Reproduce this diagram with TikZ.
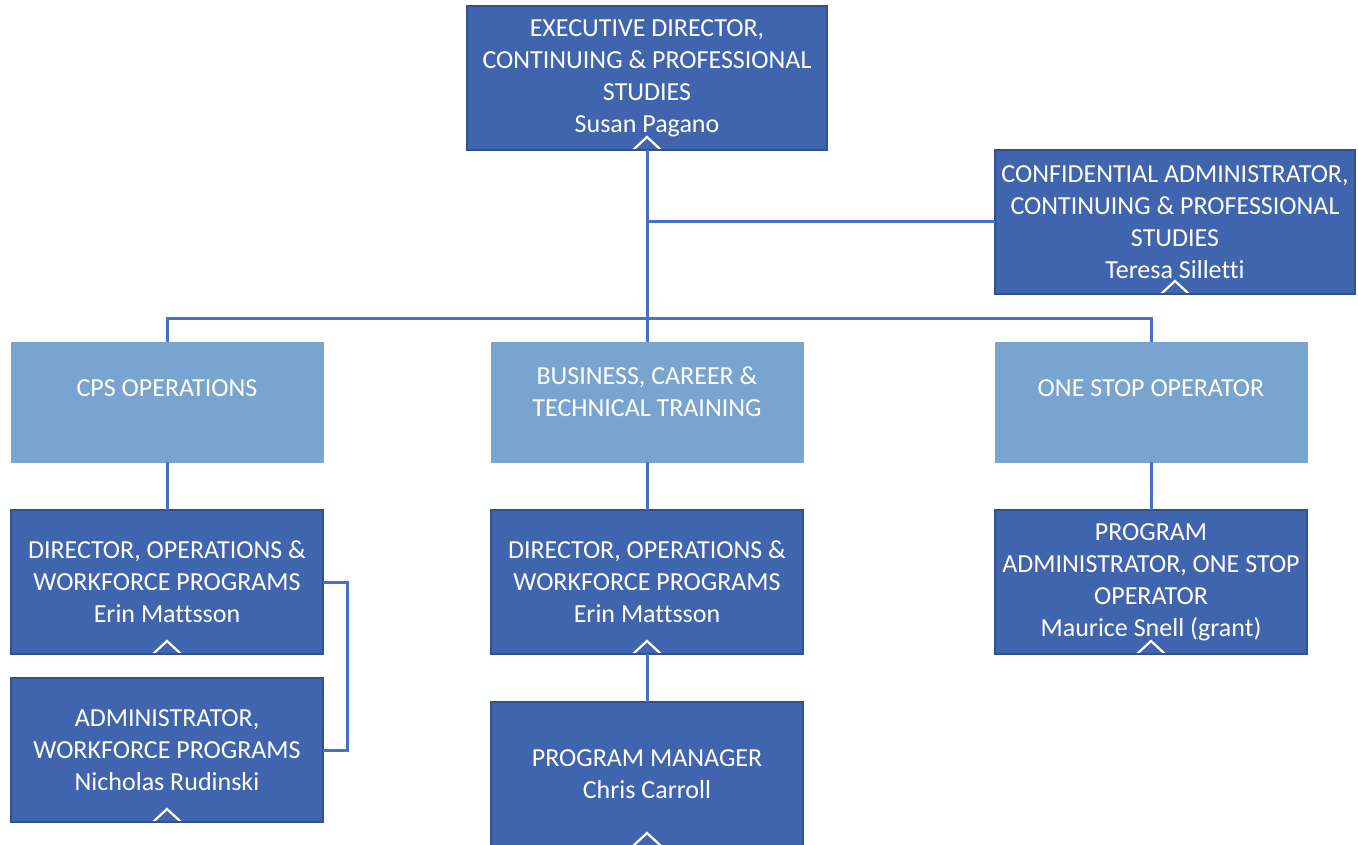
\documentclass[tikz,border=0pt]{standalone}
\usepackage{fontspec}
\setmainfont{Carlito}[Ligatures=NoCommon]
\usetikzlibrary{positioning,calc}

\definecolor{boxblue}{RGB}{64,101,174}
\definecolor{boxedge}{RGB}{47,82,143}
\definecolor{lightblue}{RGB}{122,164,208}
\definecolor{linkblue}{RGB}{68,114,196}

\tikzset{
  box/.style={draw=boxedge, line width=1.5pt, fill=boxblue, text=white,
    minimum width=312pt, minimum height=144pt, inner sep=0pt, outer sep=0pt,
    align=center, font=\fontsize{26}{32}\selectfont,
    path picture={\draw[white, line width=2.2pt]
      ([xshift=-14pt]path picture bounding box.south) -- ++(14pt,13pt) -- ++(14pt,-13pt);}},
  widebox/.style={box, minimum width=360pt},
  lightbox/.style={draw=lightblue, line width=1pt, fill=lightblue,
    minimum width=312pt, minimum height=120pt, inner sep=0pt, outer sep=0pt},
  lighttext/.style={text=white, align=center, inner sep=0pt, font=\fontsize{26}{32}\selectfont},
  link/.style={draw=linkblue, line width=3pt}
}

\begin{document}
\begin{tikzpicture}[x=1pt, y=-1pt]
  \useasboundingbox (0,0) rectangle (1358,845);

  % Top level
  \node[widebox] (exec) at (647,78) {EXECUTIVE DIRECTOR,\\CONTINUING \& PROFESSIONAL\\STUDIES\\Susan Pagano};
  \node[widebox] (conf) at (1175,222) {CONFIDENTIAL ADMINISTRATOR,\\CONTINUING \& PROFESSIONAL\\STUDIES\\Teresa Silletti};

  % Units
  \node[lightbox] (cps) at (167,402) {};
  \node[lighttext] (cpstext) at ([yshift=14pt]cps.center) {CPS OPERATIONS};
  \node[lightbox] (biz) at (647,402) {};
  \node[lighttext] (biztext) at ([yshift=10pt]biz.center) {BUSINESS, CAREER \&\\TECHNICAL TRAINING};
  \node[lightbox] (one) at (1151,402) {};
  \node[lighttext] (onetext) at ([yshift=14pt]one.center) {ONE STOP OPERATOR};

  % Staff
  \node[box] (dirl) at (167,582) {DIRECTOR, OPERATIONS \&\\WORKFORCE PROGRAMS\\Erin Mattsson};
  \node[box] (adm) at (167,750) {ADMINISTRATOR,\\WORKFORCE PROGRAMS\\Nicholas Rudinski};
  \node[box] (dirm) at (647,582) {DIRECTOR, OPERATIONS \&\\WORKFORCE PROGRAMS\\Erin Mattsson};
  \node[box] (pm) at (647,774) {PROGRAM MANAGER\\Chris Carroll};
  \node[box] (padm) at (1151,582) {PROGRAM\\ADMINISTRATOR, ONE STOP\\OPERATOR\\Maurice Snell (grant)};

  % Connectors
  \draw[link] (exec.south) -- (biz.north);
  \draw[link] (conf.west) -- (conf.west -| exec.south);
  \draw[link] (cps.north) -- ++(0,-24) -| (one.north);
  \draw[link] (cps.south) -- (dirl.north);
  \draw[link] (biz.south) -- (dirm.north);
  \draw[link] (one.south) -- (padm.north);
  \draw[link] (dirm.south) -- (pm.north);
  \draw[link] (dirl.east) -- ++(24,0) |- (adm.east);
\end{tikzpicture}
\end{document}
